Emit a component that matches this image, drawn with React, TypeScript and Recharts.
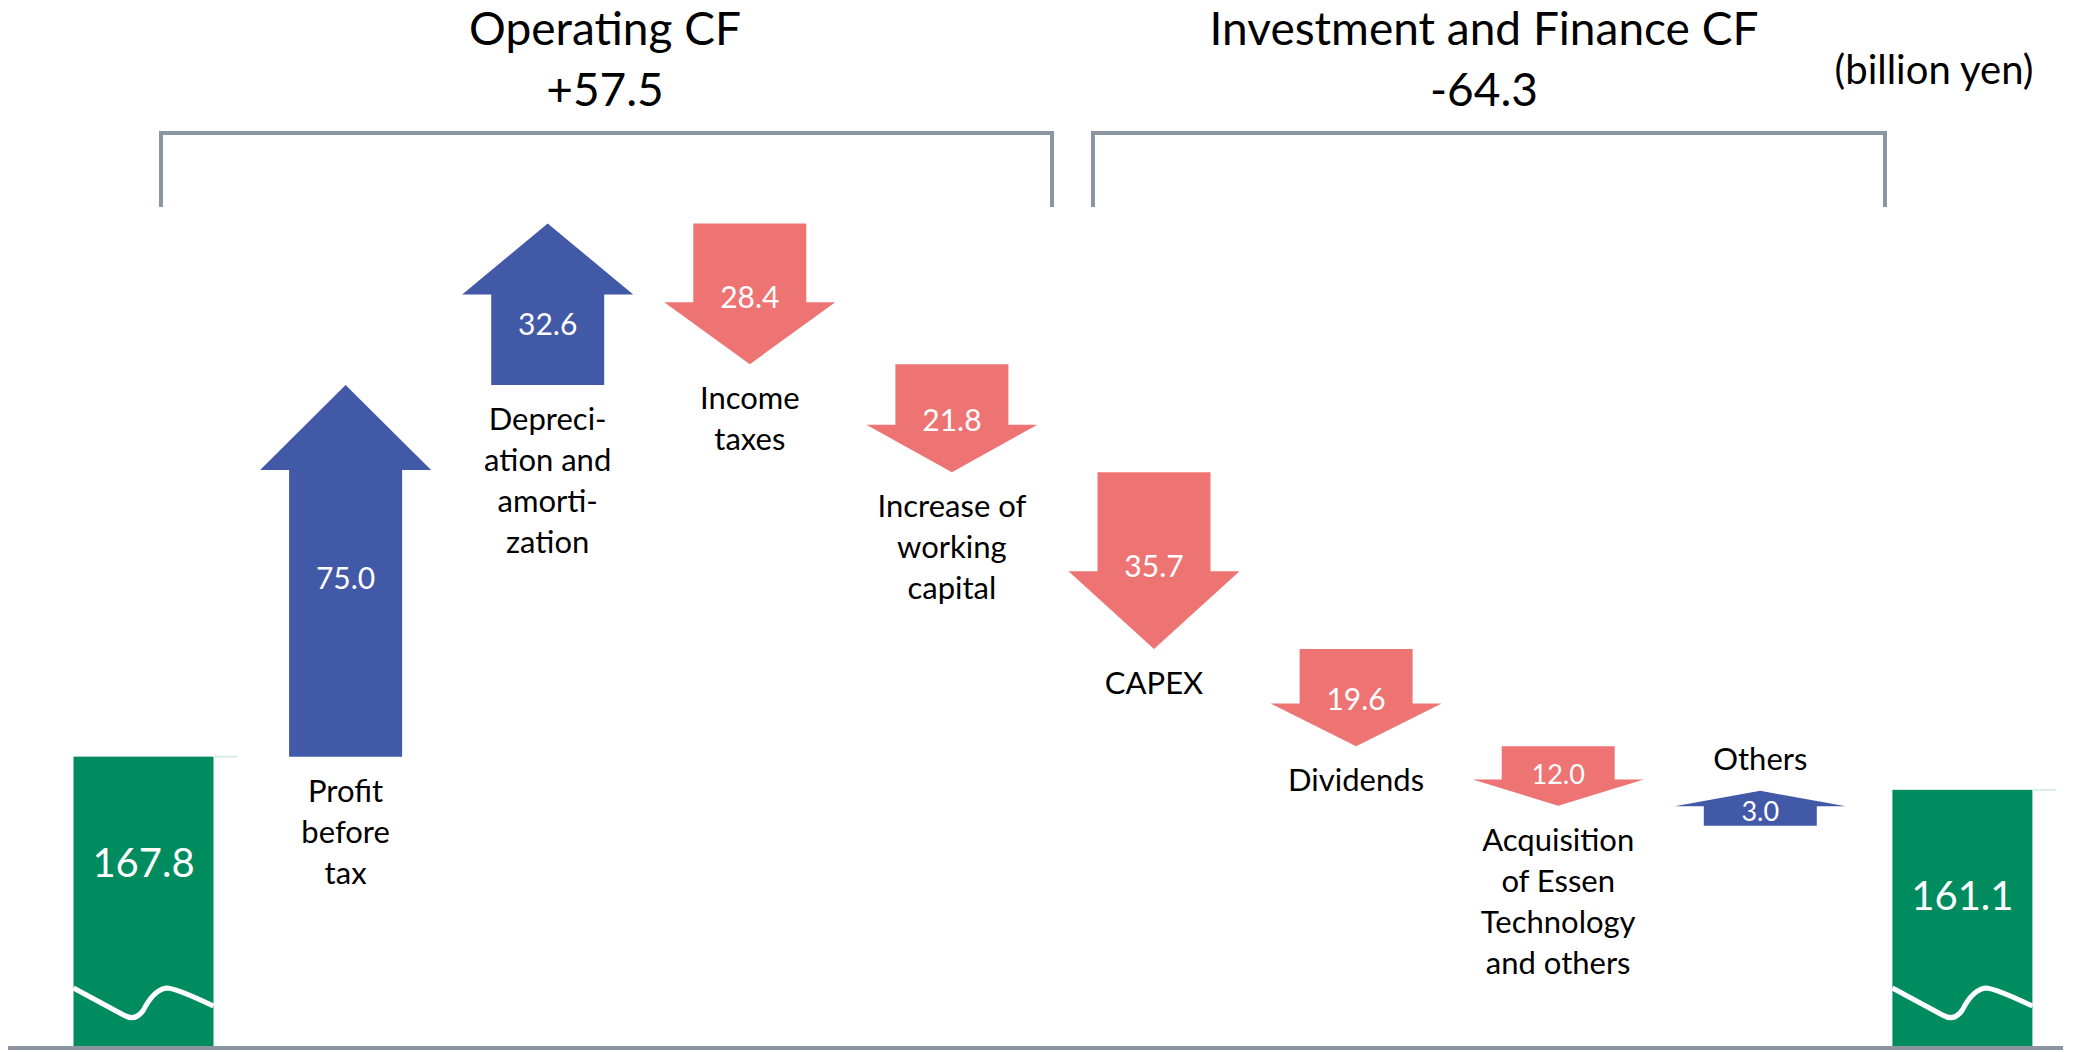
import { BarChart, Bar, XAxis, YAxis } from 'recharts'

// cash flow bridge, billion yen
const itemKeys = ['open', 'pbt', 'da', 'tax', 'wc', 'capex', 'div', 'acq', 'other', 'close']
const itemNames: string[][] = [
  [],
  ['Profit', 'before', 'tax'],
  ['Depreci-', 'ation and', 'amorti-', 'zation'],
  ['Income', 'taxes'],
  ['Increase of', 'working', 'capital'],
  ['CAPEX'],
  ['Dividends'],
  ['Acquisition', 'of Essen', 'Technology', 'and others'],
  ['Others'],
  [],
]
const itemValues = [167.8, 75.0, 32.6, -28.4, -21.8, -35.7, -19.6, -12.0, 3.0, 161.1]
const itemKinds = ['total', 'flow', 'flow', 'flow', 'flow', 'flow', 'flow', 'flow', 'flow', 'total']
const namesAbove = ['other']

const groupTitles = ['Operating CF', 'Investment and Finance CF']
const groupTotals = ['+57.5', '-64.3']
const unitLabel = '(billion yen)'

// broken axis: the totals start from the bottom of the plot
const axisFloor = 109
const axisCeiling = 320.5

const GREEN = '#008c5f'
const BLUE = '#4259a8'
const RED = '#ee7474'
const GRAY = '#8c96a0'
const FONT = 'Lato, "Open Sans", sans-serif'

function buildRows() {
  let level = 0
  return itemValues.map((v, i) => {
    if (itemKinds[i] === 'total') {
      level = v
      return { key: itemKeys[i], names: itemNames[i], value: v, kind: 'total', range: [axisFloor, v] }
    }
    const from = level
    level = from + v
    return {
      key: itemKeys[i],
      names: itemNames[i],
      value: v,
      kind: v >= 0 ? 'up' : 'down',
      range: [Math.min(from, level), Math.max(from, level)],
    }
  })
}

const rows = buildRows()

function FlowShape(props: any) {
  const { x, y, width, height, payload } = props
  const top = Math.min(y, y + height)
  // tiny flows get a minimum arrow size so the label still fits
  const h = Math.max(Math.abs(height), 35)
  const bottom = top + h
  const cx = x + width / 2

  if (payload.kind === 'total') {
    const w = 140
    const l = cx - w / 2
    const hb = Math.abs(height)
    const b = top + hb
    const wave =
      `M${l},${b - 60} L${l + 50},${b - 33} Q${l + 62},${b - 26} ${l + 70},${b - 38} ` +
      `Q${l + 80},${b - 58} ${l + 93},${b - 60} Q${l + 102},${b - 60} ${l + w},${b - 42}`
    return (
      <g>
        <rect x={l} y={top} width={w} height={hb} fill={GREEN} />
        <line x1={l + w} x2={l + w + 24} y1={top} y2={top} stroke="#d8ece8" strokeWidth={2} />
        <path d={wave} stroke="#fff" strokeWidth={5} fill="none" />
        <text x={cx} y={top + 105} fill="#fff" fontSize={40} fontFamily={FONT} textAnchor="middle" dominantBaseline="central">
          {payload.value.toFixed(1)}
        </text>
      </g>
    )
  }

  const up = payload.kind === 'up'
  const sh = width / 2
  const hh = 85.5
  const headLen = Math.min(h * 0.44, 85)
  let pts: string
  let valueY: number
  let tip: number
  if (up) {
    const base = top + headLen
    pts = [
      [cx - sh, bottom], [cx - sh, base], [cx - hh, base], [cx, top],
      [cx + hh, base], [cx + sh, base], [cx + sh, bottom],
    ].map((p) => p.join(',')).join(' ')
    valueY = h < 60 ? top + h * 0.55 : base + 0.4 * (bottom - base) - 8
    tip = top
  } else {
    const base = bottom - headLen
    pts = [
      [cx - sh, top], [cx + sh, top], [cx + sh, base], [cx + hh, base],
      [cx, bottom], [cx - hh, base], [cx - sh, base],
    ].map((p) => p.join(',')).join(' ')
    valueY = base - 6
    tip = bottom
  }

  const names: string[] = payload.names
  const above = namesAbove.includes(payload.key)
  const lineGap = 41
  const firstY = above ? tip - 33 - (names.length - 1) * lineGap : (up ? bottom : tip) + 33
  const small = h < 60

  return (
    <g>
      <polygon points={pts} fill={up ? BLUE : RED} />
      <text x={cx} y={valueY} fill="#fff" fontSize={small ? 27 : 30} fontFamily={FONT} textAnchor="middle" dominantBaseline="central">
        {Math.abs(payload.value).toFixed(1)}
      </text>
      {names.map((t, i) => (
        <text key={t} x={cx} y={firstY + i * lineGap} fill="#000" fontSize={31} fontFamily={FONT} textAnchor="middle" dominantBaseline="central">
          {t}
        </text>
      ))}
    </g>
  )
}

function Headings() {
  return (
    <svg width={2093} height={230} style={{ position: 'absolute', left: 0, top: 0, pointerEvents: 'none' }}>
      <g fontFamily={FONT} fill="#000" textAnchor="middle" dominantBaseline="central">
        <text x={605} y={27} fontSize={46}>{groupTitles[0]}</text>
        <text x={605} y={88} fontSize={46}>{groupTotals[0]}</text>
        <text x={1484} y={27} fontSize={46}>{groupTitles[1]}</text>
        <text x={1484} y={88} fontSize={46}>{groupTotals[1]}</text>
        <text x={1934} y={69} fontSize={40}>{unitLabel}</text>
      </g>
      <polyline points="161,207 161,133 1052,133 1052,207" fill="none" stroke={GRAY} strokeWidth={4} />
      <polyline points="1093,207 1093,133 1885,133 1885,207" fill="none" stroke={GRAY} strokeWidth={4} />
    </svg>
  )
}

export default function App() {
  return (
    <div style={{ position: 'absolute', left: 0, top: 0, width: 2093, height: 1052, background: '#fff' }}>
      <BarChart width={2093} height={1052} data={rows} margin={{ top: 0, right: 30, bottom: 0, left: 8 }}>
        <XAxis
          dataKey="key"
          tick={false}
          tickLine={false}
          height={4}
          padding={{ left: 34, right: 0 }}
          axisLine={{ stroke: GRAY, strokeWidth: 4 }}
        />
        <YAxis hide type="number" domain={[axisFloor, axisCeiling]} allowDataOverflow />
        <Bar dataKey="range" barSize={113} shape={<FlowShape />} isAnimationActive={false} />
      </BarChart>
      <Headings />
    </div>
  )
}
